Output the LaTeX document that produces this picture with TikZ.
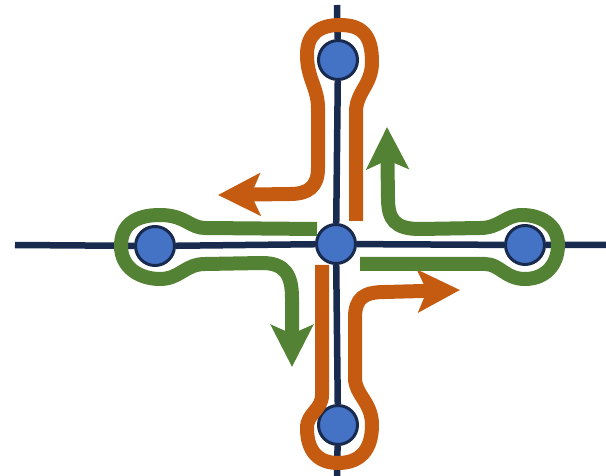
\documentclass[tikz,border=0pt]{standalone}
\usepackage{tikz}
\usepackage{xcolor}
\usetikzlibrary{arrows.meta}
\definecolor{tracknavy}{RGB}{24,42,78}
\definecolor{stopblue}{RGB}{68,114,196}
\definecolor{routeorange}{RGB}{197,90,17}
\definecolor{routegreen}{RGB}{84,130,53}

\begin{document}
\begin{tikzpicture}[x=1pt,y=-1pt,
  stopnode/.style={circle, draw=tracknavy, fill=stopblue, line width=3pt, minimum size=39pt, inner sep=0pt},
  trackline/.style={draw=tracknavy, line width=6.5pt},
  routeline/.style={line width=14pt, -{Stealth[length=42pt,width=42pt,inset=9pt]}}]
\useasboundingbox (0,0) rectangle (606,476);

% Stops
\node[stopnode] (c) at (336,244) {};
\node[stopnode] (n) at (338,60) {};
\node[stopnode] (s) at (338,425) {};
\node[stopnode] (w) at (155,246) {};
\node[stopnode] (e) at (525,245) {};

% Track ends
\coordinate (nend) at (337,5);
\coordinate (send) at (337,476);
\coordinate (wend) at (15,245);
\coordinate (eend) at (606,245);

% Tracks
\draw[trackline] (nend) -- (n) -- (c) -- (s) -- (send);
\draw[trackline] (wend) -- (w) -- (c) -- (e) -- (eend);

% Orange routes
\draw[routeline, routeorange] (356,221) -- (356,112)
  .. controls (356,92) and (372,85) .. (372,62)
  .. controls (372,35) and (362,25) .. (340,25)
  .. controls (318,25) and (307,35) .. (307,55)
  .. controls (307,78) and (318,88) .. (318,108) -- (318,168)
  .. controls (318,187) and (308,194) .. (290,194) -- (218,195);
\draw[routeline, routeorange] (322,265) -- (322,395)
  .. controls (322,410) and (307,413) .. (307,428)
  .. controls (307,453) and (320,463) .. (338,463)
  .. controls (360,463) and (372,450) .. (372,425)
  .. controls (372,402) and (355,395) .. (355,378) -- (355,318)
  .. controls (355,298) and (364,292) .. (385,292) -- (460,290);

% Green routes
\draw[routeline, routegreen] (317,229) -- (205,228)
  .. controls (190,228) and (185,215) .. (160,215)
  .. controls (135,215) and (121,225) .. (121,246)
  .. controls (121,268) and (140,279) .. (160,279)
  .. controls (180,279) and (185,264) .. (205,264) -- (262,263)
  .. controls (285,263) and (292,275) .. (292,298) -- (292,367);
\draw[routeline, routegreen] (360,264) -- (485,264)
  .. controls (500,264) and (505,279) .. (525,279)
  .. controls (545,279) and (558,265) .. (558,245)
  .. controls (558,224) and (540,215) .. (522,215)
  .. controls (505,215) and (500,228) .. (480,228) -- (420,229)
  .. controls (395,229) and (388,220) .. (388,198) -- (387,127);
\end{tikzpicture}
\end{document}
